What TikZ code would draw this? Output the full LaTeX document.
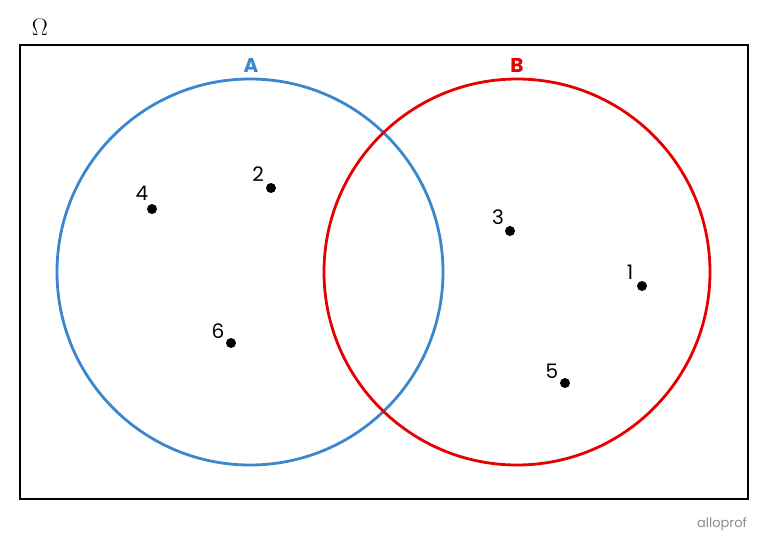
\documentclass[tikz,border=0pt]{standalone}
\usepackage{fontspec}
\setmainfont{Poppins}
\newfontfamily\lmfont{Latin Modern Roman}
\definecolor{setblue}{RGB}{58,135,205}
\definecolor{setred}{RGB}{230,0,0}
\definecolor{logogray}{RGB}{140,140,140}
\begin{document}
\begin{tikzpicture}[x=1pt,y=-1pt,
  pt/.style={circle,fill=black,inner sep=0pt,minimum size=10pt},
  lab/.style={font=\fontsize{20}{20}\selectfont,inner sep=0pt},
  setlab/.style={font=\fontsize{20}{20}\selectfont\bfseries,inner sep=0pt}]
\useasboundingbox (0,0) rectangle (768,550);
\node[draw,line width=2pt,minimum width=728pt,minimum height=454pt,inner sep=0pt] (U) at (384,272) {};
\node[font=\lmfont\fontsize{24}{24}\selectfont,inner sep=0pt] (om) at (40,27) {Ω};
\draw[setblue,line width=2.8pt] (250,272) circle[radius=193pt];
\draw[setred,line width=2.8pt] (517,272) circle[radius=193pt];
\node[setlab,text=setblue] (LA) at (251,65) {A};
\node[setlab,text=setred] (LB) at (517,65) {B};
\node[pt] (p4) at (152,209) {};
\node[pt] (p2) at (271,188) {};
\node[pt] (p6) at (231,343) {};
\node[pt] (p3) at (510,231) {};
\node[pt] (p1) at (642,286) {};
\node[pt] (p5) at (565,383) {};
\node[lab] (l4) at (142,193) {4};
\node[lab] (l2) at (258,174) {2};
\node[lab] (l6) at (218,331) {6};
\node[lab] (l3) at (498,217) {3};
\node[lab] (l1) at (630,272) {1};
\node[lab] (l5) at (552,371) {5};
\node[text=logogray,font=\fontsize{13}{13}\selectfont,inner sep=0pt] (logo) at (722,524) {alloprof};
\end{tikzpicture}
\end{document}
